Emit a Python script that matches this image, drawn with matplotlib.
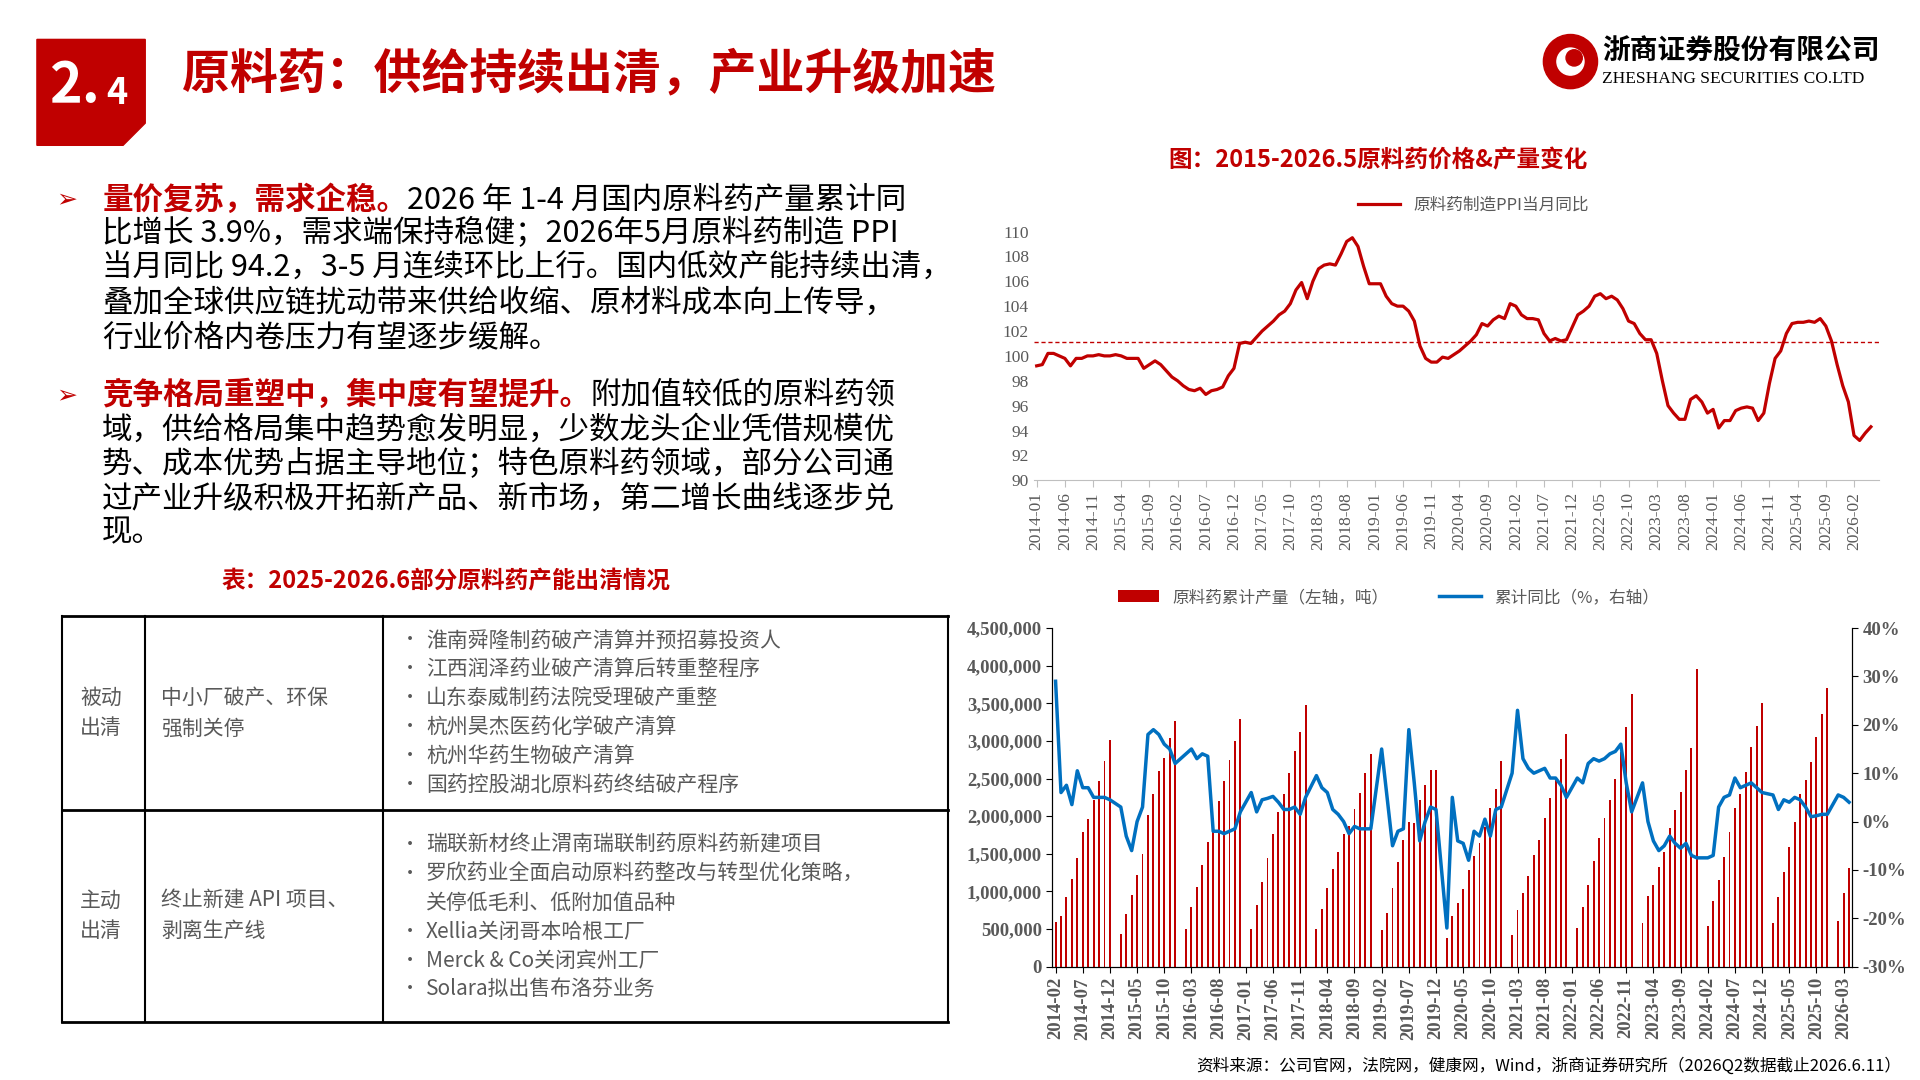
import matplotlib
matplotlib.use('Agg')
import matplotlib.pyplot as plt
import matplotlib.patches as mpatches
import numpy as np

plt.rcParams['font.family'] = ['Noto Sans CJK SC', 'DejaVu Sans']

RED = '#C00000'
BLUE = '#0070C0'
GRAY = '#595959'
SERIF = ['Liberation Serif', 'Noto Sans CJK SC', 'DejaVu Sans']

# ---- PPI (monthly, 2014-01 .. 2026-05) ----
ppi_by_year = {
    2014: [99.2, 99.3, 100.2, 100.2, 100.0, 99.8, 99.2, 99.8, 99.8, 100.0, 100.0, 100.1],
    2015: [100.0, 100.0, 100.1, 100.0, 99.8, 99.8, 99.8, 99.0, 99.3, 99.6, 99.3, 98.8],
    2016: [98.3, 98.0, 97.6, 97.3, 97.2, 97.4, 96.9, 97.2, 97.3, 97.5, 98.4, 99.0],
    2017: [101.0, 101.1, 101.0, 101.5, 102.0, 102.4, 102.8, 103.3, 103.6, 104.2, 105.3, 105.9],
    2018: [104.6, 106.0, 107.0, 107.3, 107.4, 107.3, 108.2, 109.2, 109.5, 108.8, 107.2, 105.8],
    2019: [105.8, 105.8, 104.8, 104.2, 104.0, 104.0, 103.6, 102.8, 100.8, 99.8, 99.5, 99.5],
    2020: [99.9, 99.8, 100.1, 100.4, 100.8, 101.2, 101.7, 102.6, 102.4, 102.9, 103.2, 103.0],
    2021: [104.2, 104.0, 103.3, 103.0, 103.0, 102.9, 101.8, 101.2, 101.4, 101.2, 101.3, 102.3],
    2022: [103.3, 103.6, 104.0, 104.8, 105.0, 104.6, 104.8, 104.5, 103.8, 102.8, 102.6, 101.8],
    2023: [101.3, 101.3, 100.2, 98.0, 96.0, 95.4, 94.9, 94.9, 96.5, 96.8, 96.3, 95.4],
    2024: [95.7, 94.2, 94.8, 94.8, 95.6, 95.8, 95.9, 95.8, 94.8, 95.4, 97.8, 99.8],
    2025: [100.4, 101.8, 102.6, 102.7, 102.7, 102.8, 102.7, 103.0, 102.4, 101.2, 99.3, 97.6],
    2026: [96.3, 93.6, 93.2, 93.8, 94.3],
}
PPI_REF = 101.1

# ---- cumulative output (million tonnes, Feb..Dec, Jan not reported) ----
output_by_year = {
    2014: [0.60, 0.68, 0.93, 1.17, 1.44, 1.79, 1.96, 2.22, 2.47, 2.74, 3.01],
    2015: [0.44, 0.70, 0.95, 1.22, 1.50, 2.01, 2.30, 2.60, 2.77, 3.04, 3.26],
    2016: [0.50, 0.79, 1.06, 1.35, 1.66, 1.98, 2.20, 2.47, 2.75, 3.00, 3.29],
    2017: [0.50, 0.82, 1.12, 1.44, 1.77, 2.05, 2.30, 2.58, 2.86, 3.12, 3.48],
    2018: [0.50, 0.77, 1.04, 1.30, 1.52, 1.76, 1.87, 2.10, 2.31, 2.58, 2.82],
    2019: [0.49, 0.72, 1.04, 1.39, 1.68, 1.92, 1.91, 2.22, 2.41, 2.61, 2.62],
    2020: [0.38, 0.67, 0.85, 1.03, 1.29, 1.47, 1.64, 1.85, 2.11, 2.36, 2.73],
    2021: [0.42, 0.75, 0.98, 1.21, 1.48, 1.69, 1.98, 2.24, 2.49, 2.76, 3.09],
    2022: [0.52, 0.79, 1.08, 1.40, 1.71, 1.97, 2.21, 2.50, 2.85, 3.19, 3.63],
    2023: [0.58, 0.94, 1.08, 1.33, 1.52, 1.84, 2.08, 2.32, 2.61, 2.90, 3.95],
    2024: [0.54, 0.87, 1.15, 1.46, 1.79, 2.11, 2.30, 2.59, 2.92, 3.20, 3.51],
    2025: [0.58, 0.93, 1.26, 1.59, 1.92, 2.30, 2.48, 2.72, 3.05, 3.36, 3.71],
    2026: [0.61, 0.98, 1.31],
}
growth_by_year = {
    2014: [29, 6, 7.5, 3.5, 10.5, 7, 7, 5, 5, 5, 4.5],
    2015: [3, -3, -6, 0, 3, 18, 19, 18, 16, 15, 12],
    2016: [14, 15, 13, 14, 13.5, -2, -2, -2.5, -2, -1.5, 2],
    2017: [6, 2, 4.5, 4.8, 5.2, 4, 2.5, 2.5, 3, 1.5, 5],
    2018: [9.5, 7, 6, 2.5, 1.5, 0, -2.5, -1, -1.5, -1.5, -1.5],
    2019: [15, 5, -5, -2, -1.5, 19, 8, -4, 0, 3, 2.5],
    2020: [-22, 5, -4, -4.5, -8, -2, -3, 0.5, -3, 2.5, 3],
    2021: [10, 23, 13, 11, 10, 10.5, 11, 9, 9, 7.5, 5],
    2022: [9, 8, 12, 13, 12.5, 13, 14, 14.5, 16, 8, 2],
    2023: [8, 0, -4, -6, -5, -3, -4.5, -5.5, -4.5, -7, -7.5],
    2024: [-7.5, -7, 3, 5, 5.5, 9, 7, 7.5, 8, 7, 6],
    2025: [5.5, 2.5, 4.5, 4, 5, 4.5, 3, 1, 1.2, 1.5, 1.5],
    2026: [5.5, 5, 4],
}

bullet1_red = '量价复苏，需求企稳。'
bullet1 = ['2026 年 1-4 月国内原料药产量累计同',
           '比增长 3.9%，需求端保持稳健；2026年5月原料药制造 PPI',
           '当月同比 94.2，3-5 月连续环比上行。国内低效产能持续出清，',
           '叠加全球供应链扰动带来供给收缩、原材料成本向上传导，',
           '行业价格内卷压力有望逐步缓解。']
bullet2_red = '竞争格局重塑中，集中度有望提升。'
bullet2 = ['附加值较低的原料药领',
           '域，供给格局集中趋势愈发明显，少数龙头企业凭借规模优',
           '势、成本优势占据主导地位；特色原料药领域，部分公司通',
           '过产业升级积极开拓新产品、新市场，第二增长曲线逐步兑',
           '现。']
table_rows = [
    ('被动\n出清', '中小厂破产、环保\n强制关停',
     ['淮南舜隆制药破产清算并预招募投资人', '江西润泽药业破产清算后转重整程序',
      '山东泰威制药法院受理破产重整', '杭州昊杰医药化学破产清算',
      '杭州华药生物破产清算', '国药控股湖北原料药终结破产程序']),
    ('主动\n出清', '终止新建 API 项目、\n剥离生产线',
     ['瑞联新材终止渭南瑞联制药原料药新建项目', '罗欣药业全面启动原料药整改与转型优化策略，\n关停低毛利、低附加值品种',
      'Xellia关闭哥本哈根工厂', 'Merck & Co关闭宾州工厂', 'Solara拟出售布洛芬业务']),
]

W, H = 1560, 877
fx = lambda x: x / W
fy = lambda y: 1 - y / H

fig = plt.figure(figsize=(19.2, 10.8), dpi=100)
renderer = fig.canvas.get_renderer()

# ---- header ----
fig.patches.append(mpatches.Polygon([(fx(30), fy(32)), (fx(118), fy(32)), (fx(118), fy(100)),
                                     (fx(100), fy(118)), (fx(30), fy(118))],
                                    closed=True, transform=fig.transFigure, color=RED))
fig.text(fx(40), fy(70), '2.', color='white', fontsize=40, fontweight='bold', va='center', family=SERIF[1:])
fig.text(fx(86), fy(76), '4', color='white', fontsize=26, fontweight='bold', va='center', family=SERIF[1:])
fig.text(fx(148), fy(60), '原料药：供给持续出清，产业升级加速', color=RED, fontsize=34.5,
         fontweight='bold', va='center')
r = 22 / W
fig.patches.append(mpatches.Ellipse((fx(1276), fy(50)), 2 * r, 2 * r * W / H * 877 / 877 * (1920 / 1080) / (W / H),
                                    transform=fig.transFigure, color=RED))
fig.patches.append(mpatches.Ellipse((fx(1276), fy(50)), r, r * (1920 / 1080),
                                    transform=fig.transFigure, color='white'))
fig.patches.append(mpatches.Ellipse((fx(1279), fy(47)), 0.6 * r, 0.6 * r * (1920 / 1080),
                                    transform=fig.transFigure, color=RED))
fig.text(fx(1302), fy(42), '浙商证券股份有限公司', fontsize=20, fontweight='bold', va='center')
fig.text(fx(1302), fy(64), 'ZHESHANG SECURITIES CO.LTD', fontsize=12.5, va='center', family=SERIF)


def put_line(x, y, parts, size):
    for txt, col in parts:
        t = fig.text(x, y, txt, color=col, fontsize=size, va='center',
                     fontweight='bold' if col == RED else 'normal')
        bb = t.get_window_extent(renderer)
        x = fig.transFigure.inverted().transform((bb.x1, bb.y0))[0]


for y0, red, lines in [(162, bullet1_red, bullet1), (321, bullet2_red, bullet2)]:
    fig.text(fx(46), fy(y0), '➢', color=RED, fontsize=18, va='center', family=['DejaVu Sans'])
    for i, ln in enumerate(lines):
        parts = [(red, RED), (ln, 'black')] if i == 0 else [(ln, 'black')]
        put_line(fx(83), fy(y0 + 28 * i), parts, 22)

# ---- table ----
fig.text(fx(362), fy(472), '表：2025-2026.6部分原料药产能出清情况', color=RED, fontsize=17,
         fontweight='bold', ha='center', va='center')
for y in (500, 658, 830):
    fig.add_artist(plt.Line2D([fx(50), fx(770)], [fy(y), fy(y)], color='black', lw=2))
for x in (50, 118, 311, 770):
    fig.add_artist(plt.Line2D([fx(x), fx(x)], [fy(500), fy(830)], color='black', lw=1.5))
row_spans = [(500, 658, 520), (658, 830, 686)]
for (c0, c1, items), (ya, yb, yfirst) in zip(table_rows, row_spans):
    ym = (ya + yb) / 2
    fig.text(fx(82), fy(ym), c0, fontsize=15, color=GRAY, ha='center', va='center', linespacing=1.5)
    fig.text(fx(131), fy(ym), c1, fontsize=15, color=GRAY, va='center', linespacing=1.5)
    y = yfirst
    for it in items:
        fig.text(fx(326), fy(y), '•', fontsize=13, color=GRAY, va='center')
        for s in it.split('\n'):
            fig.text(fx(346), fy(y), s, fontsize=15, color=GRAY, va='center', family=SERIF[1:])
            y += 23.5

# ---- top chart: PPI ----
fig.text(fx(1120), fy(130), '图：2015-2026.5原料药价格&产量变化', color=RED, fontsize=17,
         fontweight='bold', ha='center', va='center')
ppi = [v for yr in sorted(ppi_by_year) for v in ppi_by_year[yr]]
ppi_lbl = [f'{yr}-{m:02d}' for yr in sorted(ppi_by_year) for m in range(1, len(ppi_by_year[yr]) + 1)]
ax1 = fig.add_axes([fx(840), fy(390), fx(1527) - fx(840), fy(188) - fy(390)])
xs = np.arange(len(ppi))
ax1.plot(xs, ppi, color=RED, lw=2.3, label='原料药制造PPI当月同比')
ax1.axhline(PPI_REF, color=RED, lw=1, ls=(0, (3, 2)))
ax1.set_ylim(90, 110)
ax1.set_yticks(range(90, 111, 2))
ax1.set_xlim(-0.5, len(ppi) + 0.5)
ax1.set_xticks(xs[::5])
ax1.set_xticklabels(ppi_lbl[::5], rotation=90)
for s in ('top', 'right', 'left'):
    ax1.spines[s].set_visible(False)
ax1.spines['bottom'].set_color('#BFBFBF')
ax1.tick_params(axis='y', length=0, labelsize=12.5, labelcolor=GRAY)
ax1.tick_params(axis='x', color='#BFBFBF', length=5, labelsize=12.5, labelcolor=GRAY)
for t in ax1.get_xticklabels() + ax1.get_yticklabels():
    t.set_family(SERIF)
ax1.legend(loc='upper center', bbox_to_anchor=(0.52, 1.2), frameon=False, fontsize=12,
           labelcolor=GRAY, handlelength=2.5)

# ---- bottom chart: output ----
months = []
out_vals = []
gr_vals = []
for yr in sorted(output_by_year):
    months.append(f'{yr}-01')
    out_vals.append(np.nan)
    gr_vals.append(np.nan)
    for i, (o, g) in enumerate(zip(output_by_year[yr], growth_by_year[yr])):
        months.append(f'{yr}-{i + 2:02d}')
        out_vals.append(o * 1e6)
        gr_vals.append(g / 100)
months, out_vals, gr_vals = months[1:], np.array(out_vals[1:]), np.array(gr_vals[1:])
xb = np.arange(len(months))
ax2 = fig.add_axes([fx(855), fy(785), fx(1505) - fx(855), fy(510) - fy(785)])
ax2.bar(xb, out_vals, width=0.35, color=RED, label='原料药累计产量（左轴，吨）')
ax2.set_ylim(0, 4.5e6)
ax2.set_yticks(np.arange(0, 4.51e6, 5e5))
ax2.set_yticklabels([f'{int(v):,}' for v in np.arange(0, 4.51e6, 5e5)])
ax2.set_xlim(-0.6, len(months) - 0.4)
ax2.set_xticks(xb[::5])
ax2.set_xticklabels(months[::5], rotation=90)
ax3 = ax2.twinx()
m = ~np.isnan(gr_vals)
ax3.plot(xb[m], gr_vals[m], color=BLUE, lw=2.5, label='累计同比（%，右轴）')
ax3.set_ylim(-0.3, 0.4)
ax3.set_yticks(np.arange(-0.3, 0.41, 0.1))
ax3.set_yticklabels([f'{round(v * 100)}%' for v in np.arange(-0.3, 0.41, 0.1)])
for a in (ax2, ax3):
    a.spines['top'].set_visible(False)
    a.tick_params(labelsize=13.5, labelcolor=GRAY, length=4)
    for t in a.get_xticklabels() + a.get_yticklabels():
        t.set_family(SERIF)
        t.set_fontweight('bold')
h1, l1 = ax2.get_legend_handles_labels()
h2, l2 = ax3.get_legend_handles_labels()
ax2.legend(h1 + h2, l1 + l2, loc='upper center', bbox_to_anchor=(0.42, 1.16), ncol=2, frameon=False,
           fontsize=12, labelcolor=GRAY, handlelength=2.5, columnspacing=3)

fig.text(fx(1545), fy(866), '资料来源：公司官网，法院网，健康网，Wind，浙商证券研究所（2026Q2数据截止2026.6.11）',
         fontsize=12, ha='right', va='center')

fig.savefig('out.png', dpi=100)
